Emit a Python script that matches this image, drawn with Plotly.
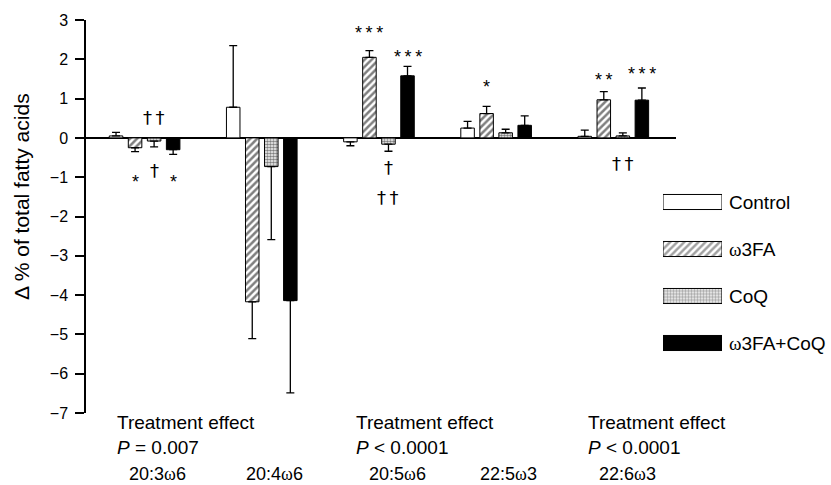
import plotly.graph_objects as go

# ---------------- data ----------------
categories = ["20:3ω6", "20:4ω6", "20:5ω6", "22:5ω3", "22:6ω3"]
series_names = ["Control", "ω3FA", "CoQ", "ω3FA+CoQ"]

control = [0.05, 0.78, -0.10, 0.25, 0.04]
control_err = [0.09, 1.57, 0.10, 0.17, 0.16]
w3fa = [-0.25, -4.17, 2.05, 0.62, 0.97]
w3fa_err = [0.10, 0.94, 0.17, 0.18, 0.21]
coq = [-0.08, -0.73, -0.16, 0.13, 0.05]
coq_err = [0.15, 1.86, 0.18, 0.09, 0.08]
combo = [-0.30, -4.14, 1.58, 0.32, 0.96]
combo_err = [0.12, 2.35, 0.24, 0.24, 0.31]

y_ticks = list(range(-7, 4))

# (category index, series index, y of mark, mark text)
sig_marks = [
    (0, 2, 0.52, "††"), (0, 1, -1.00, "*"), (0, 2, -0.84, "†"), (0, 3, -1.00, "*"),
    (2, 1, 2.79, "***"), (2, 3, 2.18, "***"), (2, 2, -0.75, "†"), (2, 2, -1.52, "††"),
    (3, 1, 1.41, "*"),
    (4, 1, 1.59, "**"), (4, 3, 1.76, "***"), (4, 2, -0.66, "††"),
]

# (category index, p-value text)
treatment_effects = [(0, "<i>P</i> = 0.007"), (2, "<i>P</i> &lt; 0.0001"), (4, "<i>P</i> &lt; 0.0001")]

# ---------------- style ----------------
FONT = "Liberation Sans, Arial, Helvetica, sans-serif"
BARGAP = 0.35
SLOT = (1 - BARGAP) / 4
BLACK = "#000000"

styles = [
    dict(color="white", pattern=dict(shape="")),
    dict(color="white", pattern=dict(shape="/", fgcolor=BLACK, bgcolor="white", size=5, solidity=0.5)),
    dict(color="white", pattern=dict(shape=".", fgcolor=BLACK, bgcolor="white", size=3, solidity=0.6)),
    dict(color=BLACK, pattern=dict(shape="")),
]

values = [control, w3fa, coq, combo]
errors = [control_err, w3fa_err, coq_err, combo_err]


def w(txt):
    return txt.replace("ω", '<span style="font-family:Liberation Serif">ω</span>')


fig = go.Figure()
for name, vals, errs, st in zip(series_names, values, errors, styles):
    plus = [e if v >= 0 else 0 for v, e in zip(vals, errs)]
    minus = [e if v < 0 else 0 for v, e in zip(vals, errs)]
    fig.add_trace(go.Bar(
        x=categories, y=vals, name=name,
        marker=dict(color=st["color"], pattern=st["pattern"], line=dict(color=BLACK, width=1)),
        error_y=dict(type="data", symmetric=False, array=plus, arrayminus=minus,
                     color=BLACK, thickness=1.3, width=4),
    ))

# legend swatches drawn as a small horizontal bar chart
fig.add_trace(go.Bar(
    x=[1] * len(series_names), y=series_names, orientation="h", width=0.32,
    xaxis="x2", yaxis="y2",
    marker=dict(
        color=[s["color"] for s in styles],
        pattern=dict(shape=["", "/", ".", ""], fgcolor=BLACK, bgcolor="white",
                     size=[5, 5, 3, 5], solidity=[0.5, 0.5, 0.6, 0.5]),
        line=dict(color=BLACK, width=1),
    ),
    hoverinfo="skip",
))

W, H = 831, 485
ML, MR, MT, MB = 86, 31, 20, 72
PW = W - ML - MR
PH = H - MT - MB


def px_x(p):
    return (p - ML) / PW


def px_y(p):
    return (H - MB - p) / PH


fig.update_layout(
    width=W, height=H,
    margin=dict(l=ML, r=MR, t=MT, b=MB, autoexpand=False),
    paper_bgcolor="white", plot_bgcolor="white",
    barmode="group", bargap=BARGAP, bargroupgap=0.29,
    showlegend=False,
    font=dict(family=FONT, size=16, color=BLACK),
    xaxis=dict(domain=[0, px_x(676)], range=[-0.5, 4.535], showline=False,
               showticklabels=False, ticks="", showgrid=False, zeroline=False),
    yaxis=dict(range=[-7, 3], tickvals=y_ticks, showline=True, linecolor=BLACK, linewidth=1.5,
               ticks="outside", ticklen=9, tickwidth=1.5, tickcolor=BLACK,
               showgrid=False, zeroline=True, zerolinecolor=BLACK, zerolinewidth=1.5,
               ticklabelstandoff=4, tickfont=dict(size=16, color=BLACK)),
    xaxis2=dict(domain=[px_x(663), px_x(722)], range=[0, 1], anchor="y2", visible=False),
    yaxis2=dict(domain=[px_y(366.5), px_y(178.5)], anchor="x2", side="right",
                autorange="reversed", showline=False, ticks="", showgrid=False, zeroline=False,
                tickfont=dict(size=19, color=BLACK), ticklabelstandoff=6,
                tickvals=series_names, ticktext=[w(s) for s in series_names]),
)

annotations = []
# y axis title
annotations.append(dict(text="Δ % of total fatty acids", textangle=-90, xref="paper", yref="paper",
                        x=px_x(21), y=px_y(197), showarrow=False, font=dict(size=21, color=BLACK),
                        xanchor="center", yanchor="middle"))

# significance marks
for gi, si, yv, txt in sig_marks:
    star = "*" in txt
    t = "\u2009".join(list(txt))
    annotations.append(dict(text=t, x=gi + (si - 1.5) * SLOT, y=yv, xref="x", yref="y",
                            showarrow=False,
                            font=dict(size=18, color=BLACK,
                                      family=FONT if star else "DejaVu Sans, sans-serif"),
                            xanchor="center", yanchor="middle", yshift=-5 if star else 0))

# treatment effect notes
te_shift = {0: -30, 2: -25, 4: -27}
for gi, ptxt in treatment_effects:
    annotations.append(dict(text="Treatment effect<br>" + ptxt, x=gi, xref="x", xshift=te_shift[gi],
                            y=px_y(435), yref="paper", showarrow=False, align="left",
                            xanchor="left", yanchor="middle", font=dict(size=19, color=BLACK)))

# category labels
cat_shift = [12.5, 12.5, 19, 12, 14.5]
for gi, cat in enumerate(categories):
    annotations.append(dict(text=w(cat), x=gi, xref="x", xshift=cat_shift[gi],
                            y=px_y(485), yref="paper", showarrow=False, borderpad=0,
                            xanchor="center", yanchor="bottom", font=dict(size=18, color=BLACK)))

fig.update_layout(annotations=annotations)
fig.write_html("out.html", config={"displayModeBar": False},
               post_script="document.body.style.margin='0';document.body.style.overflow='hidden';")
